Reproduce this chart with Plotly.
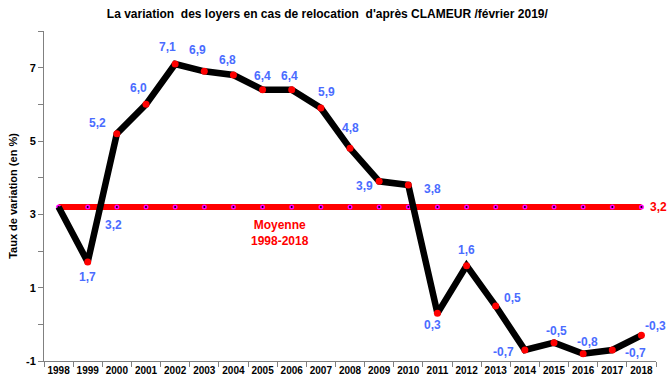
import plotly.graph_objects as go

years = [str(y) for y in range(1998, 2019)]
values = [3.2, 1.7, 5.2, 6.0, 7.1, 6.9, 6.8, 6.4, 6.4, 5.9, 4.8, 3.9, 3.8, 0.3, 1.6, 0.5, -0.7, -0.5, -0.8, -0.7, -0.3]
labels = ["3,2", "1,7", "5,2", "6,0", "7,1", "6,9", "6,8", "6,4", "6,4", "5,9", "4,8", "3,9", "3,8", "0,3", "1,6", "0,5", "-0,7", "-0,5", "-0,8", "-0,7", "-0,3"]
mean_value = 3.2
mean_label = "3,2"
mean_text = "Moyenne<br>1998-2018"
title = "La variation  des loyers en cas de relocation  d'après CLAMEUR /février 2019/"
y_title = "Taux de variation (en %)"

# label offsets in pixels (dx, dy up)
offsets = [(55, -18), (0, -15), (-19, 11), (-8, 16), (-8, 17), (-7, 21), (-6, 15), (0, 14), (-2, 14),
           (6, 16), (0, 20), (-15, -5), (24, -4), (-5, -12), (0, 16), (17, 8), (-21, -2), (2, 12),
           (4, 12), (23, -3), (14, 9)]

FONT = "Arial, Liberation Sans, sans-serif"
BLUE = "#4a6cff"

fig = go.Figure()
# mean line
fig.add_trace(go.Scatter(x=years, y=[mean_value] * len(years), mode="lines",
                         line=dict(color="#ff0000", width=6), hoverinfo="skip"))
fig.add_trace(go.Scatter(x=years, y=[mean_value] * len(years), mode="markers",
                         marker=dict(color="#ff00ff", size=5), hoverinfo="skip"))
fig.add_trace(go.Scatter(x=years, y=[mean_value] * len(years), mode="markers",
                         marker=dict(color="#000000", size=2), hoverinfo="skip"))
# main series
fig.add_trace(go.Scatter(x=years, y=values, mode="lines",
                         line=dict(color="#000000", width=6.5)))
fig.add_trace(go.Scatter(x=years[1:], y=values[1:], mode="markers",
                         marker=dict(color="#ff0000", size=7)))

annotations = []
for i, (yr, v, lab) in enumerate(zip(years, values, labels)):
    dx, dy = offsets[i]
    annotations.append(dict(x=i, y=v, text=f"<b>{lab}</b>", showarrow=False,
                            xshift=dx, yshift=dy,
                            font=dict(family=FONT, size=12, color=BLUE)))
annotations.append(dict(x=20, y=mean_value, text=f"<b>{mean_label}</b>", showarrow=False,
                        xshift=17, yshift=0, font=dict(family=FONT, size=12, color="#ff0000")))
annotations.append(dict(x=7.6, y=2.5, text=f"<b>{mean_text}</b>", showarrow=False,
                        font=dict(family=FONT, size=12, color="#ff0000")))

fig.update_layout(
    width=668, height=386,
    margin=dict(l=44, r=12, t=31, b=25, autoexpand=False),
    paper_bgcolor="white", plot_bgcolor="white",
    showlegend=False,
    title=dict(text=f"<b>{title}</b>", x=0.49, xanchor="center", y=0.975, yanchor="top",
               font=dict(family=FONT, size=12, color="#000000")),
    annotations=annotations,
    xaxis=dict(type="category", tickson="boundaries", ticks="outside", ticklen=5,
               tickcolor="#808080", showline=True, linecolor="#808080", linewidth=1,
               showgrid=False, range=[-0.5, 20.5], tickangle=0, automargin=False,
               tickfont=dict(family=FONT, size=10, color="#000000")),
    yaxis=dict(range=[-1, 8], tickvals=list(range(-1, 9)),
               ticktext=["<b>-1</b>", "", "<b>1</b>", "", "<b>3</b>", "", "<b>5</b>", "", "<b>7</b>", ""],
               ticks="outside", ticklen=5, tickcolor="#808080", showline=True,
               linecolor="#808080", linewidth=1, showgrid=False, zeroline=False, automargin=False,
               tickfont=dict(family=FONT, size=11, color="#000000"),
               title=dict(text=f"<b>{y_title}</b>", font=dict(family=FONT, size=11, color="#000000"),
                          standoff=6)),
)
fig.update_xaxes(ticktext=[f"<b>{y}</b>" for y in years], tickvals=years)
fig.write_html("out.html", config={"displayModeBar": False},
               post_script="document.body.style.margin='0';document.body.style.overflow='hidden';")
